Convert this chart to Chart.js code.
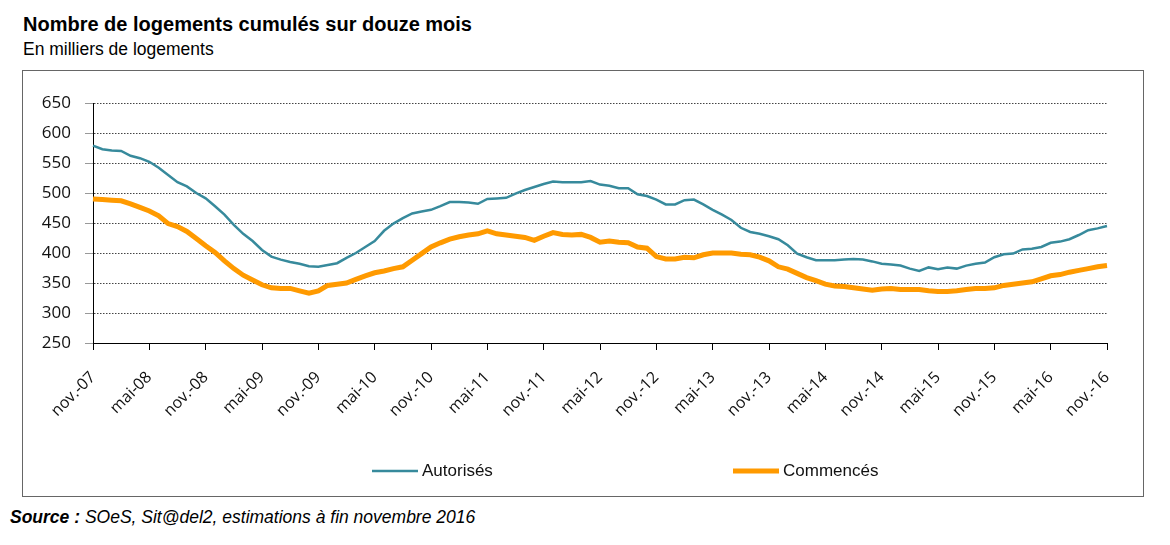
<!DOCTYPE html>
<html lang="fr">
<head>
<meta charset="utf-8">
<script src="https://cdn.jsdelivr.net/npm/chart.js@4.4.1/dist/chart.umd.min.js"></script>
<style>
  body { margin: 0; background: #fff; width: 1170px; height: 545px; position: relative; overflow: hidden; }
  #titre { position: absolute; left: 23px; top: 13px; font: bold 20px "Liberation Sans", Arial, sans-serif; color: #000; }
  #sous-titre { position: absolute; left: 23px; top: 39px; font: 17.5px "Liberation Sans", Arial, sans-serif; color: #000; }
  #cadre { position: absolute; left: 22px; top: 70px; width: 1120px; height: 425px; border: 1px solid #666; }
  #source { position: absolute; left: 10px; top: 507px; font: italic 17.5px "Liberation Sans", Arial, sans-serif; color: #000; }
  #source b { font-weight: bold; }
</style>
</head>
<body>
<div id="titre">Nombre de logements cumulés sur douze mois</div>
<div id="sous-titre">En milliers de logements</div>
<div id="cadre"><canvas id="graphe"></canvas></div>
<div id="source"><b>Source :</b> SOeS, Sit@del2, estimations à fin novembre 2016</div>
<script>
// mois de nov.-07 à nov.-16
const moisNoms = ["nov.", "déc.", "janv.", "févr.", "mars", "avr.", "mai", "juin", "juil.", "août", "sept.", "oct."];
const mois = [];
for (let i = 0; i < 109; i++) {
  const an = 7 + Math.floor((i + 10) / 12);
  mois.push(moisNoms[i % 12] + "-" + String(an).padStart(2, "0"));
}

// étiquettes de l'axe (tous les 6 mois)
const etiquettesX = ["nov.-07", "mai-08", "nov.-08", "mai-09", "nov.-09", "mai-10", "nov.-10", "mai-11",
  "nov.-11", "mai-12", "nov.-12", "mai-13", "nov.-13", "mai-14", "nov.-14", "mai-15", "nov.-15", "mai-16", "nov.-16"];

const autorises = [
  579, 573, 571, 570, 562, 558, 552, 542, 530, 518, 511, 500,
  491, 478, 464, 447, 432, 420, 405, 394, 389, 385, 382, 378,
  377, 380, 383, 392, 400, 410, 420, 437, 449, 458, 466, 469,
  472, 478, 485, 485, 484, 482, 490, 491, 492, 499, 505, 510,
  515, 519, 518, 518, 518, 520, 514, 512, 508, 508, 498, 495,
  489, 481, 481, 488, 489, 481, 472, 464, 455, 442, 435, 432,
  428, 423, 413, 399, 393, 388, 388, 388, 389, 390, 389, 386,
  382, 381, 379, 374, 370, 376, 373, 376, 374, 379, 382, 384,
  393, 398, 399, 406, 407, 410, 417, 419, 423, 430, 438, 441,
  445
];

const commences = [
  490, 489, 488, 487, 482, 476, 470, 462, 449, 444, 436, 424,
  412, 401, 387, 374, 363, 355, 347, 342, 341, 341, 337, 333,
  337, 346, 348, 350, 356, 362, 367, 370, 374, 377, 388, 399,
  410, 417, 423, 427, 430, 432, 437, 432, 430, 428, 426, 421,
  428, 434, 431, 430, 431, 426, 418, 420, 418, 417, 410, 408,
  394, 390, 390, 393, 392, 397, 400, 400, 400, 398, 397, 393,
  387, 377, 373, 366, 359, 354, 348, 345, 344, 342, 340, 338,
  340, 341, 339, 339, 339, 337, 336, 336, 337, 339, 341, 341,
  342, 346, 348, 350, 352, 357, 362, 364, 368, 371, 374, 377,
  379
];

// légende dessinée à la main, comme dans l'original
const legendeManuelle = {
  id: "legendeManuelle",
  afterDraw(chart) {
    const ctx = chart.ctx;
    const places = [349, 710];
    const y = 400;
    ctx.save();
    chart.data.datasets.forEach((ds, i) => {
      const x = places[i];
      ctx.strokeStyle = ds.borderColor;
      ctx.lineWidth = ds.borderWidth;
      ctx.beginPath();
      ctx.moveTo(x, y);
      ctx.lineTo(x + 46, y);
      ctx.stroke();
      ctx.fillStyle = "#111";
      ctx.font = '17px "Liberation Sans Narrow", "Arial Narrow", sans-serif';
      ctx.textBaseline = "middle";
      ctx.fillText(ds.label, x + 50, y);
    });
    ctx.restore();
  }
};

const ctx = document.getElementById("graphe").getContext("2d");
new Chart(ctx, {
  type: "line",
  data: {
    labels: mois,
    datasets: [
      {
        label: "Autorisés",
        data: autorises,
        borderColor: "#378a9c",
        borderWidth: 2.5,
        pointRadius: 0,
        tension: 0,
      },
      {
        label: "Commencés",
        data: commences,
        borderColor: "#ff9a00",
        borderWidth: 5,
        pointRadius: 0,
        tension: 0,
      },
    ],
  },
  options: {
    responsive: true,
    maintainAspectRatio: false,
    animation: false,
    layout: { padding: { top: 32, right: 36, left: 0, bottom: 0 } },
    plugins: {
      legend: { display: false },
      tooltip: { enabled: false },
    },
    scales: {
      x: {
        grid: { drawOnChartArea: false, color: "#000", tickLength: 7 },
        border: { color: "#000" },
        ticks: {
          autoSkip: false,
          minRotation: 45,
          maxRotation: 45,
          padding: 18,
          color: "#111",
          font: { family: '"Open Sans", sans-serif', size: 16 },
          callback: (val, index) => (index % 6 === 0 ? etiquettesX[index / 6] : null),
        },
        afterFit: (scale) => { scale.height = 153; },
      },
      y: {
        min: 250,
        max: 650,
        grid: { color: "#444", tickLength: 8, tickColor: "#999" },
        border: { color: "#000", dash: [1.5, 1.5] },
        ticks: {
          stepSize: 50,
          padding: 14,
          color: "#111",
          font: { family: '"Open Sans", sans-serif', size: 17 },
        },
        afterFit: (scale) => { scale.width = 70; },
      },
    },
  },
  plugins: [legendeManuelle],
});
</script>
</body>
</html>
